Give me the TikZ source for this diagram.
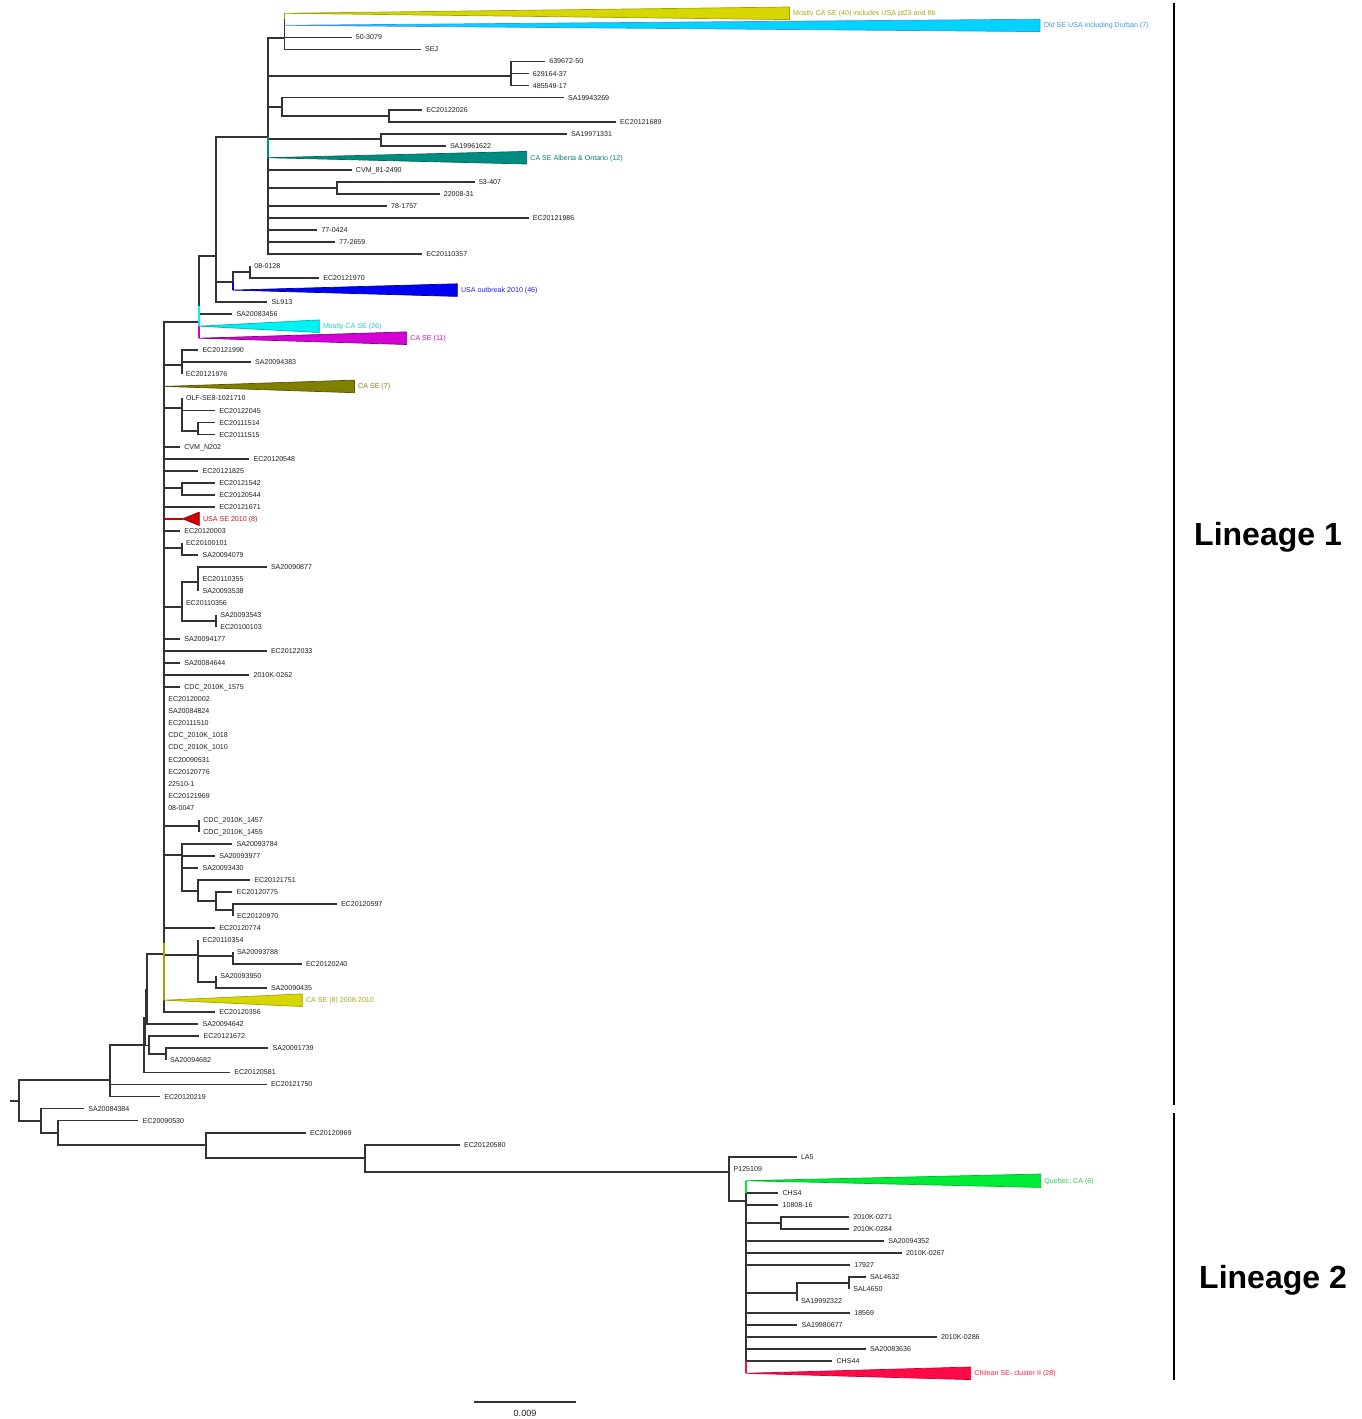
\documentclass[tikz,border=0pt]{standalone}
\usepackage{fontspec}
\setmainfont{Liberation Sans}
\newcommand\lblfont{\fontsize{7.1}{8}\selectfont}

\definecolor{brc}{HTML}{333333}
\definecolor{ylwF}{HTML}{D6D600}\definecolor{ylwE}{HTML}{A3A300}\definecolor{ylwT}{HTML}{A8A815}
\definecolor{oldF}{HTML}{00D4FF}\definecolor{oldE}{HTML}{3C92EA}\definecolor{oldT}{HTML}{3C96E6}
\definecolor{tealF}{HTML}{008C80}\definecolor{tealE}{HTML}{00665E}\definecolor{tealT}{HTML}{0B7E74}
\definecolor{bluF}{HTML}{0000F2}\definecolor{bluE}{HTML}{0000A8}\definecolor{bluT}{HTML}{2424E6}
\definecolor{cyaF}{HTML}{00F2F2}\definecolor{cyaE}{HTML}{00B5B5}\definecolor{cyaT}{HTML}{14CCCC}
\definecolor{magF}{HTML}{D400D4}\definecolor{magE}{HTML}{8C008C}\definecolor{magT}{HTML}{C410C4}
\definecolor{olvF}{HTML}{808000}\definecolor{olvE}{HTML}{555500}\definecolor{olvT}{HTML}{80801A}
\definecolor{redF}{HTML}{CC0000}\definecolor{redE}{HTML}{990000}\definecolor{redT}{HTML}{CC1515}
\definecolor{grnF}{HTML}{00EB35}\definecolor{grnE}{HTML}{00B82A}\definecolor{grnT}{HTML}{22D040}
\definecolor{chlF}{HTML}{FF0A47}\definecolor{chlE}{HTML}{CC0033}\definecolor{chlT}{HTML}{F0204C}

\tikzset{
  br/.style={draw=brc, line width=1.8pt},
  lf/.style={anchor=west, inner xsep=4.3pt, inner ysep=0pt, outer sep=0pt,
    font=\lblfont, text=black!88, text height=5.1pt, text depth=0pt},
  clab/.style={lf, inner xsep=3.7pt},
  clade/.style={line width=0.7pt, line join=round},
  lineage/.style={font=\fontsize{32}{36}\selectfont\bfseries, text=black}
}

\begin{document}
\begin{tikzpicture}[x=1pt, y=-1pt]
  \useasboundingbox[fill=white] (0,0) rectangle (1362,1419);

  % internal nodes
  \coordinate (nRt) at (10,1101);
  \coordinate (nRoot) at (18.75,1101);
  \coordinate (nAG) at (110,1080);
  \coordinate (nAD) at (143.7,1045);
  \coordinate (nAE) at (145.5,1017.5);
  \coordinate (nW) at (146.7,989.5);
  \coordinate (nAF) at (148.7,1045.5);
  \coordinate (nAC) at (165.7,1054.3);
  \coordinate (nK) at (164,954);
  \coordinate (nKy) at (164,942.7);
  \coordinate (nU) at (198.3,955);
  \coordinate (nAB) at (232.7,956);
  \coordinate (nAA) at (216,982.3);
  \coordinate (nJ) at (199,321.7);
  \coordinate (nJc) at (199,305.7);
  \coordinate (nC) at (215.6,255.7);
  \coordinate (nB) at (267.8,136.7);
  \coordinate (nA) at (284.4,38.3);
  \coordinate (nAy) at (284.4,19.3);
  \coordinate (nN6) at (511.2,76);
  \coordinate (nD) at (282.3,106.7);
  \coordinate (nE) at (388.9,115.7);
  \coordinate (nF) at (380.6,139);
  \coordinate (nG) at (336.6,187.7);
  \coordinate (nH) at (232.7,281.7);
  \coordinate (nI) at (250,271.7);
  \coordinate (nL) at (181.6,365);
  \coordinate (nM) at (181.7,408.3);
  \coordinate (nN) at (198.3,431);
  \coordinate (nO) at (181.7,488.3);
  \coordinate (nP) at (181.7,548.3);
  \coordinate (nQ) at (181.7,607.3);
  \coordinate (nR) at (198.3,581.7);
  \coordinate (nS) at (216,621);
  \coordinate (nT) at (199,826);
  \coordinate (nV) at (181.7,855);
  \coordinate (nX) at (198.3,890.7);
  \coordinate (nY) at (216,901);
  \coordinate (nZ) at (232.7,910);
  \coordinate (nAI) at (41,1121);
  \coordinate (nAJ) at (58,1133.3);
  \coordinate (nAK) at (206.3,1145.3);
  \coordinate (nAL) at (365.2,1158.3);
  \coordinate (nAM) at (729.3,1171.7);
  \coordinate (nAN) at (746,1201);
  \coordinate (nANg) at (746,1192.7);
  \coordinate (nANr) at (746,1361.2);
  \coordinate (nAO) at (780.7,1222.8);
  \coordinate (nAP) at (796.7,1292.7);
  \coordinate (nAQ) at (849,1283);

  % collapsed clades (apex)
  \coordinate (tMC40) at (284.4,13.3);
  \coordinate (tOld) at (284.4,25.3);
  \coordinate (tAlb) at (267.8,157.7);
  \coordinate (tUSAo) at (232.7,290.1);
  \coordinate (tMC26) at (199,326.2);
  \coordinate (tCA11) at (199,338.2);
  \coordinate (tCA7) at (164,386.4);
  \coordinate (tUSA8) at (182.7,518.8);
  \coordinate (tCA8) at (164,1000.2);
  \coordinate (tQue) at (746,1180.7);
  \coordinate (tChl) at (746,1373.3);

  % leaves, lineage 1
  \node[lf] (l503079) at (351.6,37.4) {50-3079};
  \node[lf] (lSEJ) at (420.8,49.4) {SEJ};
  \node[lf] (l639) at (545,61.4) {639672-50};
  \node[lf] (l629) at (528.6,73.5) {629164-37};
  \node[lf] (l485) at (528.6,85.5) {485549-17};
  \node[lf] (lSA19943269) at (563.8,97.5) {SA19943269};
  \node[lf] (lEC20122026) at (422,109.6) {EC20122026};
  \node[lf] (lEC20121689) at (615.7,121.6) {EC20121689};
  \node[lf] (lSA19971331) at (566.7,133.7) {SA19971331};
  \node[lf] (lSA19961622) at (445.7,145.7) {SA19961622};
  \node[lf] (lCVM81) at (351.6,169.8) {CVM\_81-2490};
  \node[lf] (l53407) at (474.7,181.8) {53-407};
  \node[lf] (l22008) at (439.5,193.8) {22008-31};
  \node[lf] (l781757) at (386.8,205.9) {78-1757};
  \node[lf] (lEC20121986) at (528.6,217.9) {EC20121986};
  \node[lf] (l770424) at (317.2,229.9) {77-0424};
  \node[lf] (l772659) at (335,242.0) {77-2659};
  \node[lf] (lEC20110357) at (422,254.0) {EC20110357};
  \node[lf] (l080128) at (250,266.0) {08-0128};
  \node[lf] (lEC20121970) at (319,278.1) {EC20121970};
  \node[lf] (lSL913) at (267.4,302.1) {SL913};
  \node[lf] (lSA20083456) at (232.2,314.2) {SA20083456};
  \node[lf] (lEC20121990) at (198.2,350.3) {EC20121990};
  \node[lf] (lSA20094383) at (250.8,362.3) {SA20094383};
  \node[lf] (lEC20121976) at (181.6,374.4) {EC20121976};
  \node[lf] (lOLF) at (181.7,398.4) {OLF-SE8-1021710};
  \node[lf] (lEC20122045) at (215,410.5) {EC20122045};
  \node[lf] (lEC20111514) at (215,422.5) {EC20111514};
  \node[lf] (lEC20111515) at (215,434.5) {EC20111515};
  \node[lf] (lCVMN) at (180,446.6) {CVM\_N202};
  \node[lf] (lEC20120548) at (249.3,458.6) {EC20120548};
  \node[lf] (lEC20121825) at (198.3,470.6) {EC20121825};
  \node[lf] (lEC20121542) at (215,482.7) {EC20121542};
  \node[lf] (lEC20120544) at (215,494.7) {EC20120544};
  \node[lf] (lEC20121671) at (215,506.7) {EC20121671};
  \node[lf] (lEC20120003) at (180,530.8) {EC20120003};
  \node[lf] (lEC20100101) at (181.7,542.8) {EC20100101};
  \node[lf] (lSA20094079) at (198.3,554.9) {SA20094079};
  \node[lf] (lSA20090877) at (266.7,566.9) {SA20090877};
  \node[lf] (lEC20110355) at (198.3,578.9) {EC20110355};
  \node[lf] (lSA20093538) at (198.3,591.0) {SA20093538};
  \node[lf] (lEC20110356) at (181.7,603.0) {EC20110356};
  \node[lf] (lSA20093543) at (216,615.1) {SA20093543};
  \node[lf] (lEC20100103) at (216,627.1) {EC20100103};
  \node[lf] (lSA20094177) at (180,639.1) {SA20094177};
  \node[lf] (lEC20122033) at (266.7,651.2) {EC20122033};
  \node[lf] (lSA20084644) at (180,663.2) {SA20084644};
  \node[lf] (l2010K0262) at (249.3,675.2) {2010K-0262};
  \node[lf] (lCDC1575) at (180,687.3) {CDC\_2010K\_1575};
  \node[lf] (lZa) at (164,699.3) {EC20120002};
  \node[lf] (lZb) at (164,711.3) {SA20084824};
  \node[lf] (lZc) at (164,723.4) {EC20111510};
  \node[lf] (lZd) at (164,735.4) {CDC\_2010K\_1018};
  \node[lf] (lZe) at (164,747.4) {CDC\_2010K\_1010};
  \node[lf] (lZf) at (164,759.5) {EC20090531};
  \node[lf] (lZg) at (164,771.5) {EC20120776};
  \node[lf] (lZh) at (164,783.5) {22510-1};
  \node[lf] (lZi) at (164,795.6) {EC20121969};
  \node[lf] (lZj) at (164,807.6) {08-0047};
  \node[lf] (lCDC1457) at (199,819.6) {CDC\_2010K\_1457};
  \node[lf] (lCDC1455) at (199,831.7) {CDC\_2010K\_1455};
  \node[lf] (lSA20093784) at (232.3,843.7) {SA20093784};
  \node[lf] (lSA20093977) at (215,855.8) {SA20093977};
  \node[lf] (lSA20093430) at (198.3,867.8) {SA20093430};
  \node[lf] (lEC20121751) at (250,879.8) {EC20121751};
  \node[lf] (lEC20120775) at (232.3,891.9) {EC20120775};
  \node[lf] (lEC20120597) at (336.7,903.9) {EC20120597};
  \node[lf] (lEC20120970) at (232.7,915.9) {EC20120970};
  \node[lf] (lEC20120774) at (215,928.0) {EC20120774};
  \node[lf] (lEC20110354) at (198.3,940.0) {EC20110354};
  \node[lf] (lSA20093788) at (232.7,952.0) {SA20093788};
  \node[lf] (lEC20120240) at (301.7,964.1) {EC20120240};
  \node[lf] (lSA20093950) at (216,976.1) {SA20093950};
  \node[lf] (lSA20090435) at (266.7,988.1) {SA20090435};
  \node[lf] (lEC20120356) at (215,1012.2) {EC20120356};
  \node[lf] (lSA20094642) at (198.3,1024.2) {SA20094642};
  \node[lf] (lEC20121672) at (199.3,1036.3) {EC20121672};
  \node[lf] (lSA20091739) at (268.3,1048.3) {SA20091739};
  \node[lf] (lSA20094682) at (165.7,1060.3) {SA20094682};
  \node[lf] (lEC20120581) at (230,1072.4) {EC20120581};
  \node[lf] (lEC20121750) at (266.7,1084.4) {EC20121750};
  \node[lf] (lEC20120219) at (160,1096.5) {EC20120219};

  % leaves, basal and lineage 2
  \node[lf] (lSA20084384) at (84,1108.5) {SA20084384};
  \node[lf] (lEC20090530) at (138.4,1120.5) {EC20090530};
  \node[lf] (lEC20120969) at (305.8,1132.6) {EC20120969};
  \node[lf] (lEC20120580) at (459.8,1144.6) {EC20120580};
  \node[lf] (lLA5) at (796.7,1156.6) {LA5};
  \node[lf] (lP125109) at (729.3,1168.7) {P125109};
  \node[lf] (lCHS4) at (778.3,1192.7) {CHS4};
  \node[lf] (l10808) at (778.3,1204.8) {10808-16};
  \node[lf] (l2010K0271) at (849,1216.8) {2010K-0271};
  \node[lf] (l2010K0284) at (849,1228.8) {2010K-0284};
  \node[lf] (lSA20094352) at (884,1240.9) {SA20094352};
  \node[lf] (l2010K0267) at (901.7,1252.9) {2010K-0267};
  \node[lf] (l17927) at (850,1264.9) {17927};
  \node[lf] (lSAL4632) at (865.7,1277.0) {SAL4632};
  \node[lf] (lSAL4650) at (849,1289.0) {SAL4650};
  \node[lf] (lSA19992322) at (796.7,1301.1) {SA19992322};
  \node[lf] (l18569) at (850,1313.1) {18569};
  \node[lf] (lSA19980677) at (797.3,1325.1) {SA19980677};
  \node[lf] (l2010K0286) at (936.7,1337.2) {2010K-0286};
  \node[lf] (lSA20083636) at (865.7,1349.2) {SA20083636};
  \node[lf] (lCHS44) at (832.3,1361.2) {CHS44};

  % branches
  \draw[br] (nRt) -- (nRoot);
  \foreach \p/\c in {nRoot/nAG, nRoot/nAI,
      nAG/nAD, nAG/lEC20121750.west, nAG/lEC20120219.west,
      nAD/nAE, nAD/lEC20120581.west, nAE/nW, nAE/nAF,
      nW/nK, nW/lSA20094642.west,
      nAF/lEC20121672.west, nAF/nAC,
      nAC/lSA20091739.west, nAC/lSA20094682.west,
      nK/nJ, nK/nL, nK/tCA7, nK/nM, nK/lCVMN.west, nK/lEC20120548.west,
      nK/lEC20121825.west, nK/nO, nK/lEC20121671.west, nK/tUSA8,
      nK/lEC20120003.west, nK/nP, nK/nQ, nK/lSA20094177.west,
      nK/lEC20122033.west, nK/lSA20084644.west, nK/l2010K0262.west,
      nK/lCDC1575.west, nK/lZa.west, nK/lZb.west, nK/lZc.west, nK/lZd.west,
      nK/lZe.west, nK/lZf.west, nK/lZg.west, nK/lZh.west, nK/lZi.west,
      nK/lZj.west, nK/nT, nK/nV, nK/lEC20120774.west, nK/nU, nK/tCA8,
      nK/lEC20120356.west,
      nU/lEC20110354.west, nU/nAB, nU/nAA,
      nAB/lSA20093788.west, nAB/lEC20120240.west,
      nAA/lSA20093950.west, nAA/lSA20090435.west,
      nV/lSA20093784.west, nV/lSA20093977.west, nV/lSA20093430.west, nV/nX,
      nX/lEC20121751.west, nX/nY, nY/lEC20120775.west, nY/nZ,
      nZ/lEC20120597.west, nZ/lEC20120970.west,
      nT/lCDC1457.west, nT/lCDC1455.west,
      nQ/nR, nQ/lEC20110356.west, nQ/nS,
      nR/lSA20090877.west, nR/lEC20110355.west, nR/lSA20093538.west,
      nS/lSA20093543.west, nS/lEC20100103.west,
      nP/lEC20100101.west, nP/lSA20094079.west,
      nO/lEC20121542.west, nO/lEC20120544.west,
      nM/lOLF.west, nM/lEC20122045.west, nM/nN,
      nN/lEC20111514.west, nN/lEC20111515.west,
      nL/lEC20121990.west, nL/lSA20094383.west, nL/lEC20121976.west,
      nJ/nC, nJ/lSA20083456.west, nJ/tMC26, nJ/tCA11,
      nC/nB, nC/nH, nC/lSL913.west,
      nH/nI, nH/tUSAo, nI/l080128.west, nI/lEC20121970.west,
      nB/nA, nB/nN6, nB/nD, nB/nF, nB/tAlb, nB/lCVM81.west, nB/nG,
      nB/l781757.west, nB/lEC20121986.west, nB/l770424.west,
      nB/l772659.west, nB/lEC20110357.west,
      nA/tMC40, nA/tOld, nA/l503079.west, nA/lSEJ.west,
      nN6/l639.west, nN6/l629.west, nN6/l485.west,
      nD/lSA19943269.west, nD/nE,
      nE/lEC20122026.west, nE/lEC20121689.west,
      nF/lSA19971331.west, nF/lSA19961622.west,
      nG/l53407.west, nG/l22008.west,
      nAI/lSA20084384.west, nAI/nAJ,
      nAJ/lEC20090530.west, nAJ/nAK,
      nAK/lEC20120969.west, nAK/nAL,
      nAL/lEC20120580.west, nAL/nAM,
      nAM/lLA5.west, nAM/lP125109.west, nAM/nAN,
      nAN/tQue, nAN/lCHS4.west, nAN/l10808.west, nAN/nAO,
      nAN/lSA20094352.west, nAN/l2010K0267.west, nAN/l17927.west, nAN/nAP,
      nAN/l18569.west, nAN/lSA19980677.west, nAN/l2010K0286.west,
      nAN/lSA20083636.west, nAN/lCHS44.west, nAN/tChl,
      nAO/l2010K0271.west, nAO/l2010K0284.west,
      nAP/nAQ, nAP/lSA19992322.west,
      nAQ/lSAL4632.west, nAQ/lSAL4650.west}
    \draw[br] (\p) |- (\c);

  % coloured branches
  \draw[br, draw=ylwE] (nAy) |- (tMC40);
  \draw[br, draw=tealF] (nB) |- (tAlb);
  \draw[br, draw=bluF] (nH) |- (tUSAo);
  \draw[br, draw=magF] (nJ) |- (tCA11);
  \draw[br, draw=cyaF] (nJc) |- (tMC26);
  \draw[br, draw=redF] (tUSA8 -| nK) -- (tUSA8);
  \draw[br, draw=ylwE] (nKy) |- (tCA8);
  \draw[br, draw=grnF] (nANg) |- (tQue);
  \draw[br, draw=chlF] (nANr) |- (tChl);

  % collapsed clades
  \filldraw[clade, fill=ylwF, draw=ylwE] (tMC40) -- (789.4,7.0) -- (789.4,19.6) -- cycle;
  \filldraw[clade, fill=oldF, draw=oldE] (tOld) -- (1040,19.2) -- (1040,31.6) -- cycle;
  \filldraw[clade, fill=tealF, draw=tealE] (tAlb) -- (526.7,151.4) -- (526.7,164.0) -- cycle;
  \filldraw[clade, fill=bluF, draw=bluE] (tUSAo) -- (457.3,283.8) -- (457.3,296.4) -- cycle;
  \filldraw[clade, fill=cyaF, draw=cyaE] (tMC26) -- (319.3,319.9) -- (319.3,332.5) -- cycle;
  \filldraw[clade, fill=magF, draw=magE] (tCA11) -- (406.7,331.9) -- (406.7,344.5) -- cycle;
  \filldraw[clade, fill=olvF, draw=olvE] (tCA7) -- (354.5,380.1) -- (354.5,392.7) -- cycle;
  \filldraw[clade, fill=redF, draw=redE] (tUSA8) -- (199.3,512.1) -- (199.3,525.5) -- cycle;
  \filldraw[clade, fill=ylwF, draw=ylwE] (tCA8) -- (302.3,993.9) -- (302.3,1006.5) -- cycle;
  \filldraw[clade, fill=grnF, draw=grnE] (tQue) -- (1040.7,1174.0) -- (1040.7,1187.4) -- cycle;
  \filldraw[clade, fill=chlF, draw=chlE] (tChl) -- (970.7,1367.0) -- (970.7,1379.6) -- cycle;

  \node[clab, text=ylwT] (cMC40) at (789.4,13.3) {Mostly CA SE (40) includes USA pt23 and 8b};
  \node[clab, text=oldT] (cOld) at (1040,25.3) {Old SE USA including Durban (7)};
  \node[clab, text=tealT] (cAlb) at (526.7,157.7) {CA SE Alberta \& Ontario (12)};
  \node[clab, text=bluT] (cUSAo) at (457.3,290.1) {USA outbreak 2010 (46)};
  \node[clab, text=cyaT] (cMC26) at (319.3,326.2) {Mostly CA SE (26)};
  \node[clab, text=magT] (cCA11) at (406.7,338.2) {CA SE (11)};
  \node[clab, text=olvT] (cCA7) at (354.5,386.4) {CA SE (7)};
  \node[clab, text=redT] (cUSA8) at (199.3,518.8) {USA SE 2010 (8)};
  \node[clab, text=ylwT] (cCA8) at (302.3,1000.2) {CA SE (8) 2008-2010};
  \node[clab, text=grnT] (cQue) at (1040.7,1180.7) {Quebec, CA (6)};
  \node[clab, text=chlT] (cChl) at (970.7,1373.3) {Chilean SE- cluster II (28)};

  % lineage brackets
  \coordinate (g1t) at (1174,3);
  \coordinate (g1b) at (1174,1105);
  \coordinate (g2t) at (1174,1113);
  \coordinate (g2b) at (1174,1380);
  \draw[line width=1.5pt] (g1t) -- (g1b);
  \draw[line width=1.5pt] (g2t) -- (g2b);
  \node[lineage] (lin1) at (1268,537) {Lineage 1};
  \node[lineage] (lin2) at (1273,1280) {Lineage 2};

  % scale bar
  \coordinate (sbL) at (474.3,1402);
  \coordinate (sbR) at (576,1402);
  \draw[br] (sbL) -- (sbR);
  \node[font=\fontsize{9}{10}\selectfont, text=black!88, inner sep=0pt] (sbT) at (525,1413) {0.009};
\end{tikzpicture}
\end{document}
